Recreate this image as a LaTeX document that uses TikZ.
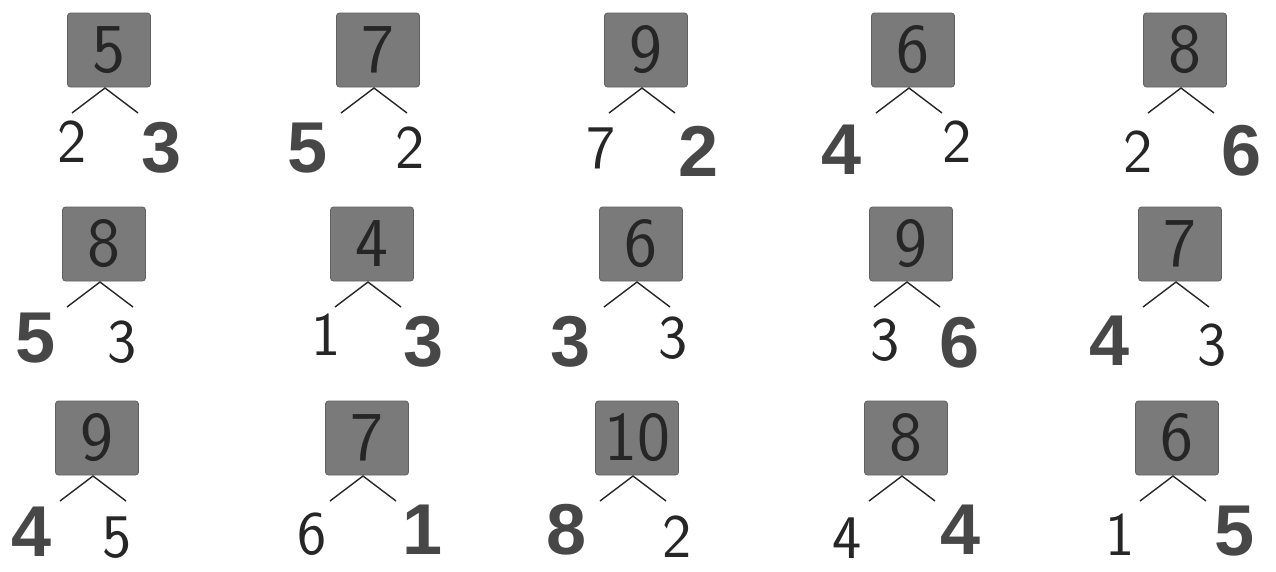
\documentclass[tikz,border=0pt]{standalone}
\usepackage{fontspec}
\setmainfont{Liberation Sans}
\begin{document}
\begin{tikzpicture}[x=1pt,y=-1pt,
  numbox/.style={draw=black!62, fill=black!52, rounded corners=3pt, line width=0.8pt,
    minimum width=83pt, minimum height=74pt, inner sep=0pt,
    font=\sffamily\fontsize{70}{70}\selectfont, text=black!85},
  digbold/.style={inner sep=0pt, font=\bfseries\fontsize{72}{72}\selectfont, text=black!72},
  digthin/.style={inner sep=0pt, font=\sffamily\fontsize{62}{62}\selectfont, text=black!85},
  twig/.style={line width=1.4pt, draw=black!85}]
\useasboundingbox (0,0) rectangle (1276,571);
\fill[white] (0,0) rectangle (1276,571);
\foreach \i/\cx/\cy/\t/\L/\lx/\ly/\ls/\R/\rx/\ry/\rs in {
  1/109/50/5/2/72/142/digthin/3/162/148/digbold,
  2/378/50/7/5/308/148/digbold/2/410/148/digthin,
  3/646/50/9/7/601/148/digthin/2/699/151/digbold,
  4/913/50/6/4/842/150/digbold/2/957/142/digthin,
  5/1185/50/8/2/1138/152/digthin/6/1242/151/digbold,
  6/104/244/8/5/36/338/digbold/3/122/342/digthin,
  7/372/244/4/1/326/335/digthin/3/424/342/digbold,
  8/641/244/6/3/571/342/digbold/3/673/338/digthin,
  9/911/244/9/3/885/340/digthin/6/960/343/digbold,
  10/1180/244/7/4/1110/341/digbold/3/1212/345/digthin,
  11/97/438/9/4/32/532/digbold/5/117/538/digthin,
  12/367/438/7/6/312/534/digthin/1/423/530/digbold,
  13/637/438/10/8/567/530/digbold/2/677/537/digthin,
  14/906/438/8/4/847/538/digthin/4/961/530/digbold,
  15/1177/438/6/1/1120/535/digthin/5/1235/531/digbold}{
  \node[numbox] (b\i) at (\cx,\cy) {\t};
  \coordinate (a\i) at (\cx-4,\cy+38);
  \coordinate (l\i) at (\cx-37,\cy+63);
  \coordinate (r\i) at (\cx+29,\cy+63);
  \draw[twig] (l\i) -- (a\i) -- (r\i);
  \node[\ls] (n\i l) at (\lx,\ly) {\L};
  \node[\rs] (n\i r) at (\rx,\ry) {\R};
}
\end{tikzpicture}
\end{document}
